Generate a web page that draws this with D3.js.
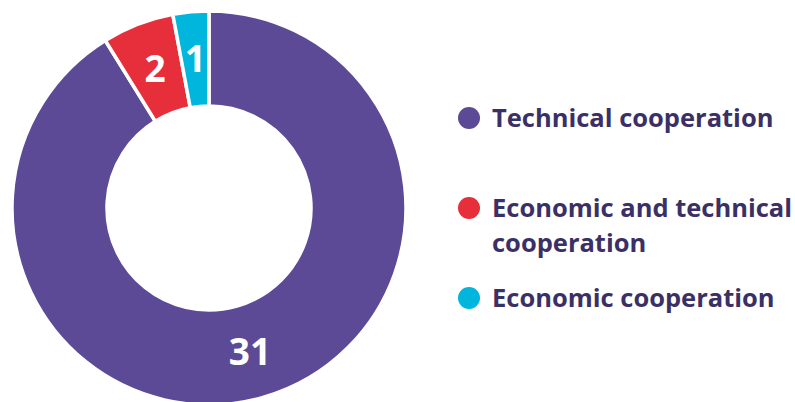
<!DOCTYPE html>
<html>
<head>
<meta charset="utf-8">
<script src="https://cdn.jsdelivr.net/npm/d3@7"></script>
<style>
  body { margin: 0; background: #fff; }
  svg text { font-family: "Open Sans", "Lato", sans-serif; font-weight: 700; }
</style>
</head>
<body>
<div id="chart"></div>
<script>
const width = 795;
const height = 402;

// data
const categories = ["Technical cooperation", "Economic and technical cooperation", "Economic cooperation"];
const values = [31, 2, 1];
const colors = ["#5c4a97", "#e62f3b", "#00b6dd"];
// legend lines (wrapped the same way as the original)
const legendLines = [["Technical cooperation"], ["Economic and technical", "cooperation"], ["Economic cooperation"]];

const svg = d3.select("#chart")
    .append("svg")
    .attr("width", width)
    .attr("height", height);

const cx = 209, cy = 208;
const outerR = 197, innerR = 102;

const pie = d3.pie().sort(null).value(d => d);
const arc = d3.arc().innerRadius(innerR).outerRadius(outerR);

const g = svg.append("g").attr("transform", `translate(${cx},${cy})`);
const arcs = pie(values);

g.selectAll("path")
    .data(arcs)
    .join("path")
    .attr("d", arc)
    .attr("fill", (d, i) => colors[i])
    .attr("stroke", "#fff")
    .attr("stroke-width", 3.5);

// value labels on the ring
g.selectAll("text.val")
    .data(arcs)
    .join("text")
    .attr("class", "val")
    .attr("transform", d => `translate(${arc.centroid(d)})`)
    .attr("text-anchor", "middle")
    .attr("dy", "0.36em")
    .attr("fill", "#fff")
    .attr("font-size", 37)
    .text(d => d.data);

// legend
const legendY = [118, 208, 298];
const lg = svg.append("g");
categories.forEach((c, i) => {
    lg.append("circle")
        .attr("cx", 469)
        .attr("cy", legendY[i])
        .attr("r", 11)
        .attr("fill", colors[i]);
    const t = lg.append("text")
        .attr("x", 492)
        .attr("y", legendY[i] + 9)
        .attr("fill", "#3b3065")
        .attr("font-size", 25.5);
    legendLines[i].forEach((line, j) => {
        t.append("tspan")
            .attr("x", 492)
            .attr("dy", j === 0 ? 0 : 35)
            .text(line);
    });
});
</script>
</body>
</html>
